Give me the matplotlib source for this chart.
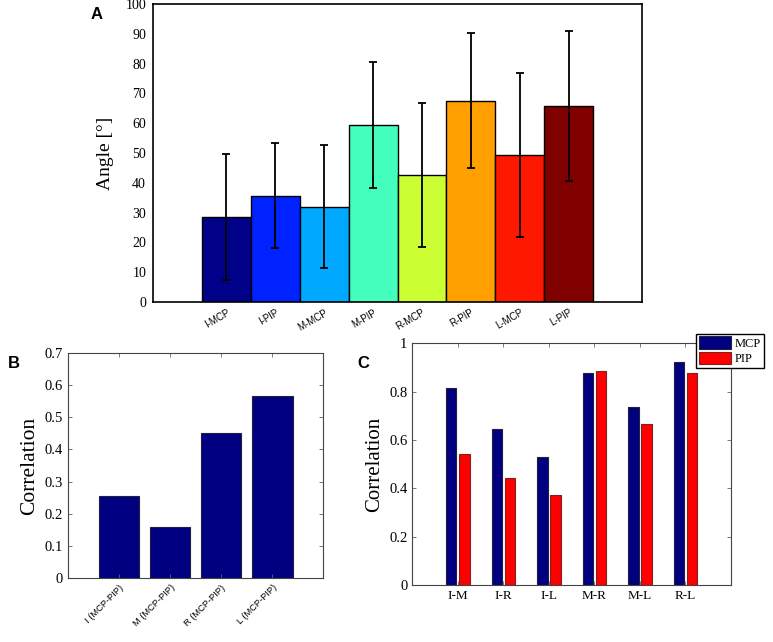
import numpy as np
import matplotlib.pyplot as plt

# Panel A data
joints = ['I-MCP', 'I-PIP', 'M-MCP', 'M-PIP', 'R-MCP', 'R-PIP', 'L-MCP', 'L-PIP']
angle_mean = [28.5, 35.7, 32.0, 59.4, 42.6, 67.6, 49.2, 65.7]
angle_err = [21.0, 17.7, 20.7, 21.0, 24.3, 22.7, 27.5, 25.2]
joint_colors = ['#000088', '#0022ff', '#00a8ff', '#44ffbb', '#ccff33', '#ffa000', '#ff1800', '#800000']

# Panel B data
fingers = ['I (MCP-PIP)', 'M (MCP-PIP)', 'R (MCP-PIP)', 'L (MCP-PIP)']
corr_b = [0.256, 0.160, 0.452, 0.566]

# Panel C data
pairs = ['I-M', 'I-R', 'I-L', 'M-R', 'M-L', 'R-L']
corr_mcp = [0.816, 0.645, 0.530, 0.878, 0.738, 0.923]
corr_pip = [0.542, 0.441, 0.371, 0.887, 0.666, 0.876]

serif = 'Liberation Serif'
sans = 'Liberation Sans'

fig = plt.figure(figsize=(7.73, 6.42), dpi=100)

#### A
axA = fig.add_axes([0.198, 0.5296, 0.6326, 0.4642])
xa = np.arange(1, len(joints) + 1)
axA.bar(xa, angle_mean, width=1.0, color=joint_colors, edgecolor='black', linewidth=1.0)
axA.errorbar(xa, angle_mean, yerr=angle_err, fmt='none', ecolor='black',
             elinewidth=1.3, capsize=3, capthick=1.3)
axA.set_xlim(-0.5, 9.5)
axA.set_ylim(0, 100)
axA.set_yticks(np.arange(0, 101, 10))
axA.set_xticks(xa)
axA.set_xticklabels(joints, rotation=30, ha='right', rotation_mode='anchor', fontsize=7, family=sans)
axA.tick_params(length=0)
axA.tick_params(axis='x', pad=4)
axA.tick_params(axis='y', pad=5)
for lab in axA.get_yticklabels():
    lab.set_family(serif)
    lab.set_fontsize(10)
axA.set_ylabel('Angle [°]', family=serif, fontsize=14, labelpad=8)
for s in axA.spines.values():
    s.set_linewidth(1.2)
fig.text(0.125, 0.978, 'A', fontsize=12, fontweight='bold', family=sans, ha='center', va='center')

#### B
axB = fig.add_axes([0.088, 0.0992, 0.330, 0.3514])
xb = np.arange(1, len(fingers) + 1)
axB.bar(xb, corr_b, width=0.8, color='#000080', edgecolor='#202040', linewidth=0.8)
axB.set_xlim(0, 5)
axB.set_ylim(0, 0.7)
axB.set_yticks(np.arange(0, 0.71, 0.1))
axB.set_yticklabels(['0', '0.1', '0.2', '0.3', '0.4', '0.5', '0.6', '0.7'], family=serif, fontsize=10.5)
axB.set_xticks(xb)
axB.set_xticklabels(fingers, rotation=45, ha='right', rotation_mode='anchor', fontsize=6.7, family=sans)
axB.tick_params(direction='in', top=True, right=True, length=3, width=0.6, color='#666666')
axB.set_ylabel('Correlation', family=serif, fontsize=15.5)
for s in axB.spines.values():
    s.set_color('#444444')
fig.text(0.018, 0.434, 'B', fontsize=12, fontweight='bold', family=sans, ha='center', va='center')

#### C
axC = fig.add_axes([0.5334, 0.0888, 0.4123, 0.3765])
xc = np.arange(1, len(pairs) + 1)
axC.bar(xc - 0.145, corr_mcp, width=0.23, color='#000080', edgecolor='#202040', linewidth=0.8, label='MCP')
axC.bar(xc + 0.145, corr_pip, width=0.23, color='#ff0000', edgecolor='#802020', linewidth=0.8, label='PIP')
axC.set_xlim(0, 7)
axC.set_ylim(0, 1)
axC.set_yticks(np.arange(0, 1.01, 0.2))
axC.set_yticklabels(['0', '0.2', '0.4', '0.6', '0.8', '1'], family=serif, fontsize=10.5)
axC.set_xticks(xc)
axC.set_xticklabels(pairs, family=serif, fontsize=9.5)
axC.tick_params(direction='in', top=True, right=True, length=3, width=0.6, color='#666666')
axC.set_ylabel('Correlation', family=serif, fontsize=15)
for s in axC.spines.values():
    s.set_color('#444444')
leg = axC.legend(loc='upper left', bbox_to_anchor=(0.891, 1.04), prop={'family': serif, 'size': 9},
                 fancybox=False, edgecolor='black', framealpha=1, handlelength=2.6, handleheight=1.2,
                 borderpad=0.2, labelspacing=0.15, handletextpad=0.3, borderaxespad=0)
fig.text(0.47, 0.434, 'C', fontsize=12, fontweight='bold', family=sans, ha='center', va='center')

fig.savefig('out.png', dpi=100)
